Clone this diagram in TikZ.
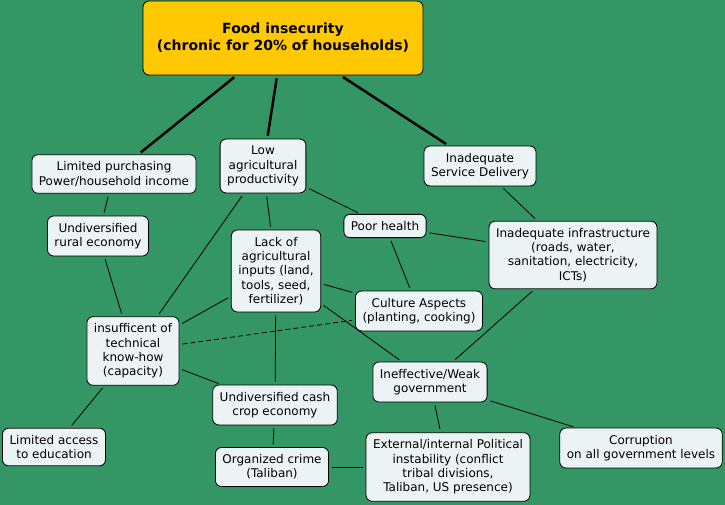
\documentclass[tikz,border=0pt]{standalone}
\usepackage{fontspec}
\setmainfont{DejaVu Sans}
\usepackage{tikz}

\definecolor{mapgreen}{RGB}{51,150,100}
\definecolor{boxfill}{RGB}{236,243,245}
\definecolor{foodyellow}{RGB}{255,200,0}

\begin{document}
\begin{tikzpicture}[
    x=1pt,y=-1pt,
    box/.style={draw,black,line width=0.8pt,fill=boxfill,rounded corners=6pt,align=center,
      inner xsep=7pt,inner ysep=7pt,font=\fontsize{12}{14.3}\selectfont},
    topbox/.style={box,fill=foodyellow,minimum width=280pt,minimum height=74pt,
      font=\bfseries\fontsize{14}{17}\selectfont},
    link/.style={line width=0.8pt,shorten <=3pt,shorten >=3pt},
    mainlink/.style={link,line width=2.5pt}
    ]
    \fill[mapgreen] (0, 0) rectangle (725, 505);
    \useasboundingbox (0, 0) rectangle (725, 505);

    % top problem
    \node[topbox] (food) at (283, 38) {Food insecurity\\(chronic for 20\% of households)};

    % first level causes
    \node[box] (purchase) at (114, 174) {Limited purchasing\\Power/household income};
    \node[box] (lowagri) at (263, 166) {Low\\agricultural\\productivity};
    \node[box] (service) at (480, 166) {Inadequate\\Service Delivery};

    % second level
    \node[box] (rural) at (98, 236) {Undiversified\\rural economy};
    \node[box] (health) at (385, 226) {Poor health};
    \node[box] (infra) at (573, 255) {Inadequate infrastructure\\(roads, water,\\sanitation, electricity,\\ICTs)};
    \node[box] (inputs) at (276, 271) {Lack of\\agricultural\\inputs (land,\\tools, seed,\\fertilizer)};
    \node[box] (culture) at (419, 311) {Culture Aspects\\(planting, cooking)};
    \node[box] (knowhow) at (133, 351) {insufficent of\\technical\\know-how\\(capacity)};
    \node[box] (govt) at (430, 382) {Ineffective/Weak\\government};
    \node[box] (cashcrop) at (275, 405) {Undiversified cash\\crop economy};
    \node[box] (education) at (54, 447) {Limited access\\to education};
    \node[box] (crime) at (272, 467) {Organized crime\\(Taliban)};
    \node[box] (politics) at (448, 467) {External/internal Political\\instability (conflict\\tribal divisions,\\Taliban, US presence)};
    \node[box] (corruption) at (641, 448) {Corruption\\on all government levels};

    % links
    \draw[mainlink] (food) -- (purchase);
    \draw[mainlink] (food) -- (lowagri);
    \draw[mainlink] (food) -- (service);
    \draw[link] (purchase) -- (rural);
    \draw[link] (rural) -- (knowhow);
    \draw[link] (lowagri) -- (knowhow);
    \draw[link] (lowagri) -- (inputs);
    \draw[link] (lowagri) -- (health);
    \draw[link] (health) -- (infra);
    \draw[link] (health) -- (culture);
    \draw[link] (service) -- (infra);
    \draw[link] (infra) -- (govt);
    \draw[link] (inputs) -- (knowhow);
    \draw[link] (inputs) -- (culture);
    \draw[link] (inputs) -- (govt);
    \draw[link] (inputs) -- (cashcrop);
    \draw[link,dash pattern=on 5pt off 3pt] (knowhow) -- (culture);
    \draw[link] (knowhow) -- (cashcrop);
    \draw[link] (knowhow) -- (education);
    \draw[link] (cashcrop) -- (crime);
    \draw[link] (crime) -- (politics);
    \draw[link] (govt) -- (politics);
    \draw[link] (govt) -- (corruption);
  \end{tikzpicture}
\end{document}
